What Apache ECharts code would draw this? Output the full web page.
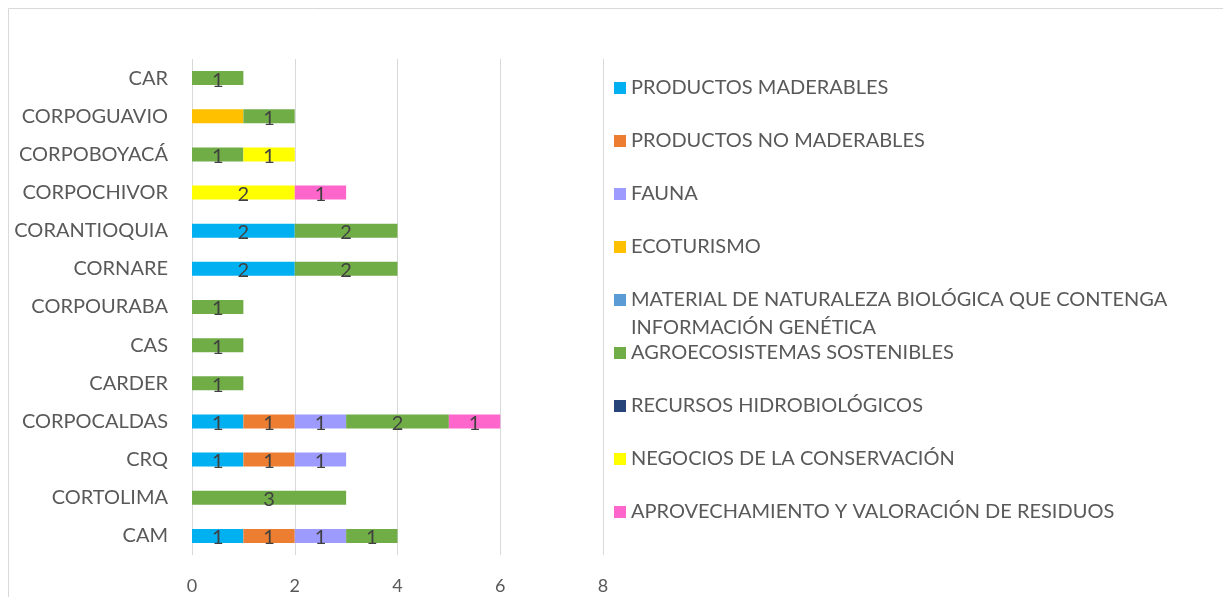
<!DOCTYPE html>
<html>
<head>
<meta charset="utf-8">
<script src="https://cdn.jsdelivr.net/npm/echarts@6/dist/echarts.min.js"></script>
<style>
  html, body { margin: 0; padding: 0; background: #fff; }
  #chart { width: 1223px; height: 597px; }
</style>
</head>
<body>
<div id="chart"></div>
<script>
// categorias (de abajo hacia arriba)
var categorias = ['CAM', 'CORTOLIMA', 'CRQ', 'CORPOCALDAS', 'CARDER', 'CAS', 'CORPOURABA',
    'CORNARE', 'CORANTIOQUIA', 'CORPOCHIVOR', 'CORPOBOYACÁ', 'CORPOGUAVIO', 'CAR'];

var maderables     = [1, null, 1, 1, null, null, null, 2, 2, null, null, null, null];
var noMaderables   = [1, null, 1, 1, null, null, null, null, null, null, null, null, null];
var fauna          = [1, null, 1, 1, null, null, null, null, null, null, null, null, null];
var ecoturismo     = [null, null, null, null, null, null, null, null, null, null, null, 1, null];
var materialGen    = [null, null, null, null, null, null, null, null, null, null, null, null, null];
var agroecosist    = [1, 3, null, 2, 1, 1, 1, 2, 2, null, 1, 1, 1];
var hidrobiologico = [null, null, null, null, null, null, null, null, null, null, null, null, null];
var negocios       = [null, null, null, null, null, null, null, null, null, 2, 1, null, null];
var aprovecham     = [null, null, null, 1, null, null, null, null, null, 1, null, null, null];

var ejeX = [0, 8, 2];   // min, max, intervalo

var series = [
    {name: 'PRODUCTOS MADERABLES', data: maderables, color: '#00B0F0'},
    {name: 'PRODUCTOS NO MADERABLES', data: noMaderables, color: '#ED7D31'},
    {name: 'FAUNA', data: fauna, color: '#9E9BFF'},
    {name: 'ECOTURISMO', data: ecoturismo, color: '#FFC000', noLabel: true},
    {name: 'MATERIAL DE NATURALEZA BIOLÓGICA QUE CONTENGA\nINFORMACIÓN GENÉTICA', data: materialGen, color: '#5B9BD5'},
    {name: 'AGROECOSISTEMAS SOSTENIBLES', data: agroecosist, color: '#70AD47'},
    {name: 'RECURSOS HIDROBIOLÓGICOS', data: hidrobiologico, color: '#264478'},
    {name: 'NEGOCIOS DE LA CONSERVACIÓN', data: negocios, color: '#FFFF00'},
    {name: 'APROVECHAMIENTO Y VALORACIÓN DE RESIDUOS', data: aprovecham, color: '#FF66CC'}
];

var fuente = 'Lato, "Open Sans", sans-serif';

// una leyenda por serie, para que el texto de dos lineas no empuje a las demas
var leyendas = series.map(function (s, i) {
    var doble = s.name.indexOf('\n') >= 0;
    var centro = 88 + i * 53;
    return {
        data: [s.name],
        left: 614,
        top: doble ? centro - 42 : centro - 14,
        padding: 0,
        itemWidth: 12,
        itemHeight: 12,
        itemGap: 9,
        icon: 'rect',
        selectedMode: false,
        formatter: function (name) {
            return doble ? '\n' + name : name;   // primera linea alineada con el icono
        },
        textStyle: {
            color: '#595959',
            fontFamily: fuente,
            fontSize: 20,
            lineHeight: 28
        }
    };
});

var myChart = echarts.init(document.getElementById('chart'), null, {renderer: 'canvas'});

myChart.setOption({
    animation: false,
    backgroundColor: '#fff',
    graphic: [{
        type: 'rect',
        shape: {x: 8.5, y: 8.5, width: 1240, height: 620},
        style: {fill: 'none', stroke: '#D9D9D9', lineWidth: 1}
    }],
    legend: leyendas,
    grid: {
        left: 192,
        right: 620,
        top: 59,
        bottom: 42
    },
    xAxis: {
        type: 'value',
        min: ejeX[0],
        max: ejeX[1],
        interval: ejeX[2],
        axisLine: {show: false},
        axisTick: {show: false},
        splitLine: {lineStyle: {color: '#D9D9D9', width: 1}},
        axisLabel: {
            color: '#595959',
            fontFamily: fuente,
            fontSize: 18,
            margin: 22
        }
    },
    yAxis: {
        type: 'category',
        data: categorias,
        axisLine: {show: false},
        axisTick: {show: false},
        axisLabel: {
            color: '#595959',
            fontFamily: fuente,
            fontSize: 20,
            margin: 24
        }
    },
    series: series.map(function (s) {
        return {
            name: s.name,
            type: 'bar',
            stack: 'total',
            barWidth: 14,
            data: s.data,
            itemStyle: {color: s.color},
            label: {
                show: !s.noLabel,
                position: 'inside',
                color: '#404040',
                fontFamily: fuente,
                fontSize: 20,
                offset: [0, 2]
            }
        };
    })
});
</script>
</body>
</html>
